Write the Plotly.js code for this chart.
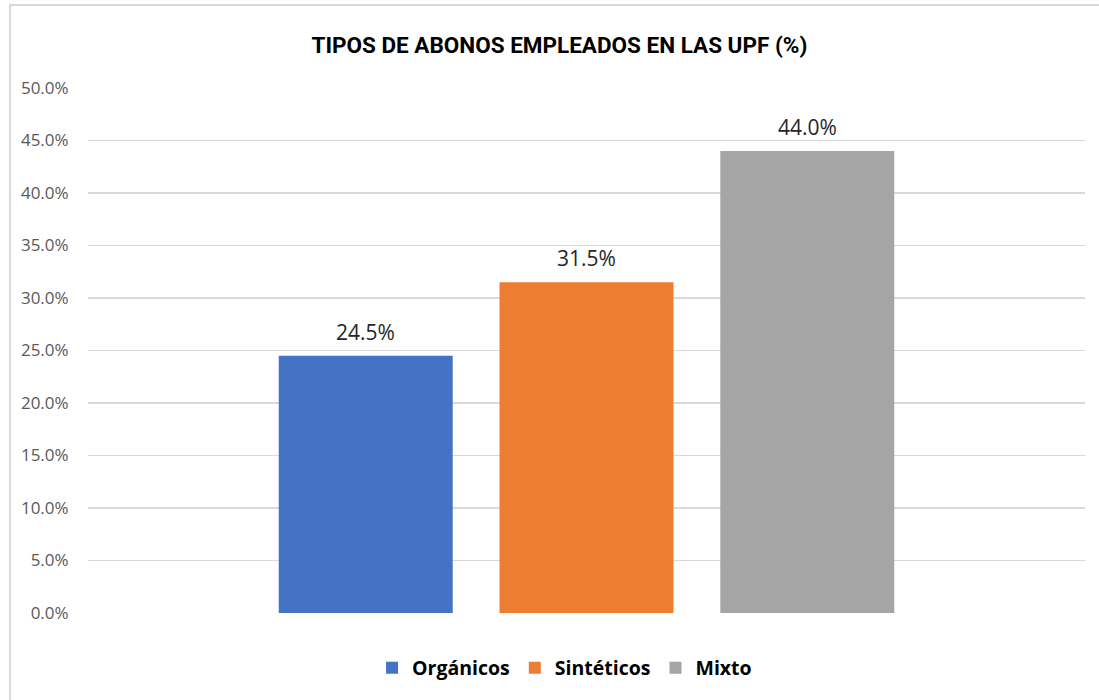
<!DOCTYPE html>
<html>
<head>
<meta charset="utf-8">
<script src="https://cdn.plot.ly/plotly-3.0.1.min.js"></script>
<style>
html,body{margin:0;padding:0;background:#fff;}
#frame{position:absolute;left:9px;top:4px;width:1200px;height:800px;border-left:2px solid #d9d9d9;border-top:2px solid #d9d9d9;box-sizing:border-box;}
#chart{position:absolute;left:0;top:0;width:1099px;height:700px;}
</style>
</head>
<body>
<div id="frame"></div>
<div id="chart"></div>
<script>
const categories = ["Orgánicos", "Sintéticos", "Mixto"];
const values = [24.5, 31.5, 44.0];
const colors = ["#4472C4", "#ED7D31", "#A5A5A5"];
const yTicks = [0, 5, 10, 15, 20, 25, 30, 35, 40, 45, 50];
const yTickLabels = yTicks.map(v => v.toFixed(1) + "%");

const traces = categories.map((c, i) => ({
  type: "bar",
  name: c,
  x: [c],
  y: [values[i]],
  marker: {color: colors[i]},
  hoverinfo: "none"
}));

const annotations = categories.map((c, i) => ({
  x: c,
  y: values[i],
  xref: "x",
  yref: "y",
  text: values[i].toFixed(1) + "%",
  showarrow: false,
  yanchor: "middle",
  yshift: 24,
  font: {family: "Open Sans, sans-serif", size: 21, color: "#262626"}
}));

const layout = {
  width: 1099,
  height: 700,
  paper_bgcolor: "rgba(0,0,0,0)",
  plot_bgcolor: "rgba(0,0,0,0)",
  margin: {l: 88, r: 14, t: 88, b: 87},
  barmode: "overlay",
  bargap: 0.212,
  title: {
    text: "<b>TIPOS DE ABONOS EMPLEADOS EN LAS UPF (%)</b>",
    font: {family: "Roboto, sans-serif", size: 22.5, color: "#000"},
    x: 0.509, xanchor: "center", y: 0.935, yanchor: "middle"
  },
  annotations: annotations,
  xaxis: {
    type: "category",
    range: [-1.258, 3.258],
    showticklabels: false,
    showgrid: false,
    zeroline: false,
    showline: false,
    fixedrange: true
  },
  yaxis: {
    range: [0, 50],
    tickvals: yTicks,
    ticktext: yTickLabels,
    showgrid: true,
    gridcolor: "#d9d9d9",
    gridwidth: 1.5,
    zeroline: false,
    showline: false,
    ticks: "outside",
    ticklen: 15,
    tickcolor: "rgba(0,0,0,0)",
    tickfont: {family: "Open Sans, sans-serif", size: 17, color: "#595959"},
    fixedrange: true
  },
  showlegend: true,
  legend: {
    orientation: "h",
    x: 0.478, xanchor: "center",
    y: -0.105, yanchor: "middle",
    font: {family: "Open Sans, sans-serif", size: 19.5, color: "#000", weight: "bold"},
    itemwidth: 30,
    traceorder: "normal"
  }
};

Plotly.newPlot("chart", traces, layout, {displayModeBar: false, staticPlot: true});
</script>
</body>
</html>
